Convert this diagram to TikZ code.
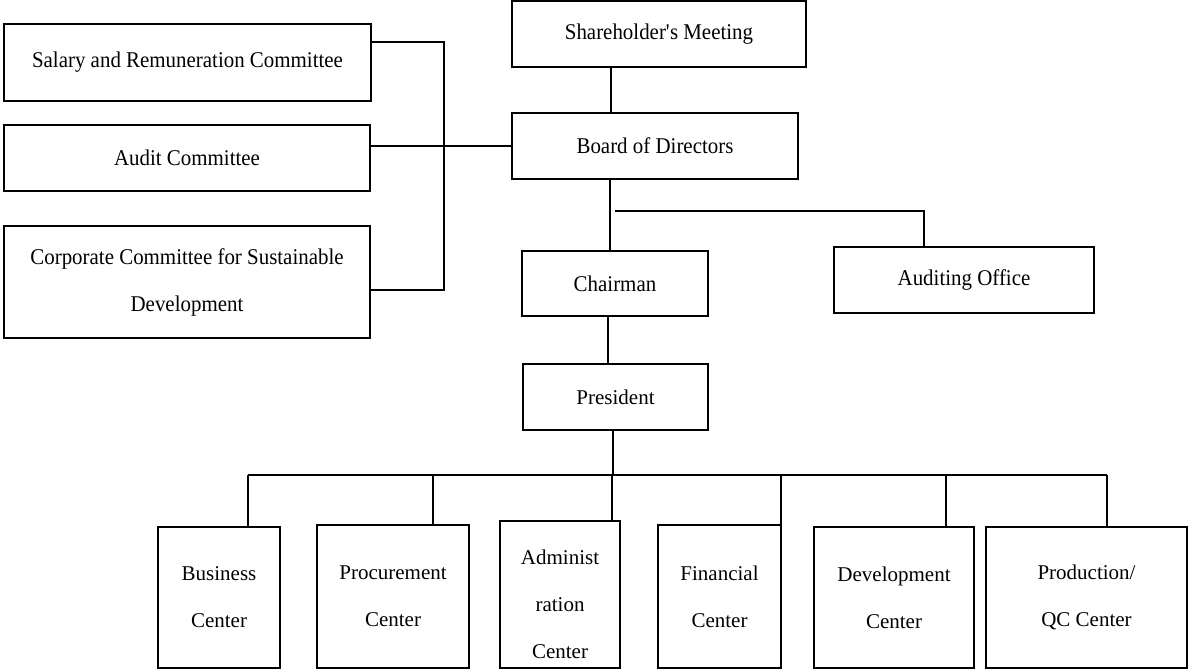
\documentclass[tikz,border=0pt]{standalone}
\usepackage{fontspec}
\setmainfont{Liberation Serif}
\newfontfamily\condfont[FakeStretch=0.93]{Liberation Serif}
\begin{document}
\begin{tikzpicture}[x=1pt,y=-1pt,
  box/.style={draw=black,line width=1.6pt,rectangle,inner sep=0pt,outer sep=0pt,align=center,
    font=\fontsize{21}{47}\selectfont},
  topbox/.style={box,font=\condfont\fontsize{22.5}{47}\selectfont},
  link/.style={draw=black,line width=1.6pt}]
\useasboundingbox (0,0) rectangle (1189,669);
% top part
\node[topbox,minimum width=294,minimum height=66] (sh) at (659,34) {Shareholder\textquotesingle s Meeting};
\node[topbox,minimum width=286,minimum height=66] (board) at (655,146) {Board of Directors};
\node[topbox,minimum width=367,minimum height=77] (salary) at (187.5,62.5) {Salary and Remuneration Committee};
\node[topbox,minimum width=366,minimum height=66] (auditc) at (187,158) {Audit Committee};
\node[topbox,minimum width=366,minimum height=112] (corp) at (187,282) {Corporate Committee for Sustainable\\Development};
\node[topbox,minimum width=186,minimum height=65] (chair) at (615,283.5) {Chairman};
\node[topbox,minimum width=260,minimum height=66] (audo) at (964,280) {Auditing Office};
\node[box,minimum width=185,minimum height=66] (pres) at (615.5,397) {President};
% centers
\node[box,minimum width=122,minimum height=141] (bus) at (219,597.5) {Business\\Center};
\node[box,minimum width=152,minimum height=143] (proc) at (393,596.5) {Procurement\\Center};
\node[box,minimum width=120,minimum height=147] (admin) at (560,594.5) {};
\begin{scope}
  \clip (admin.south west) rectangle (admin.north east);
  \node[font=\fontsize{21}{47}\selectfont,align=center,inner sep=0pt] (admintext) at (560,604) {Administ\\ration\\Center};
\end{scope}
\node[box,minimum width=123,minimum height=143] (fin) at (719.5,596.5) {Financial\\Center};
\node[box,minimum width=160,minimum height=141] (dev) at (894,597.5) {Development\\Center};
\node[box,minimum width=201,minimum height=141] (prod) at (1086.5,597.5) {Production/\\QC Center};
% coordinates for connector routing
\coordinate (v1) at (611,0);
\coordinate (v2) at (610,0);
\coordinate (v3) at (608,0);
\coordinate (v4) at (613,0);
\coordinate (brtop) at (444,42);
\coordinate (brbot) at (444,290);
\coordinate (ab) at (615,211);
\coordinate (ad) at (924,211);
\coordinate (busL) at (248,475);
\coordinate (busR) at (1107,475);
% connectors
\draw[link] (sh.south -| v1) -- (board.north -| v1);
\draw[link] (salary.east |- brtop) -- (brtop) -- (brbot) -- (corp.east |- brbot);
\draw[link] (auditc.east |- board.west) -- (board.west);
\draw[link] (board.south -| v2) -- (chair.north -| v2);
\draw[link] (ab) -- (ad) -- (audo.north -| ad);
\draw[link] (chair.south -| v3) -- (pres.north -| v3);
\draw[link] (pres.south -| v4) -- (busL -| v4);
\draw[link] (busL) -- (busR);
\draw[link] (busL) -- (bus.north -| busL);
\draw[link] (busL -| 433,0) -- (proc.north -| 433,0);
\draw[link] (busL -| 612,0) -- (admin.north -| 612,0);
\draw[link] (busL -| 781,0) -- (fin.north -| 781,0);
\draw[link] (busL -| 946,0) -- (dev.north -| 946,0);
\draw[link] (busR) -- (prod.north -| busR);
\end{tikzpicture}
\end{document}
